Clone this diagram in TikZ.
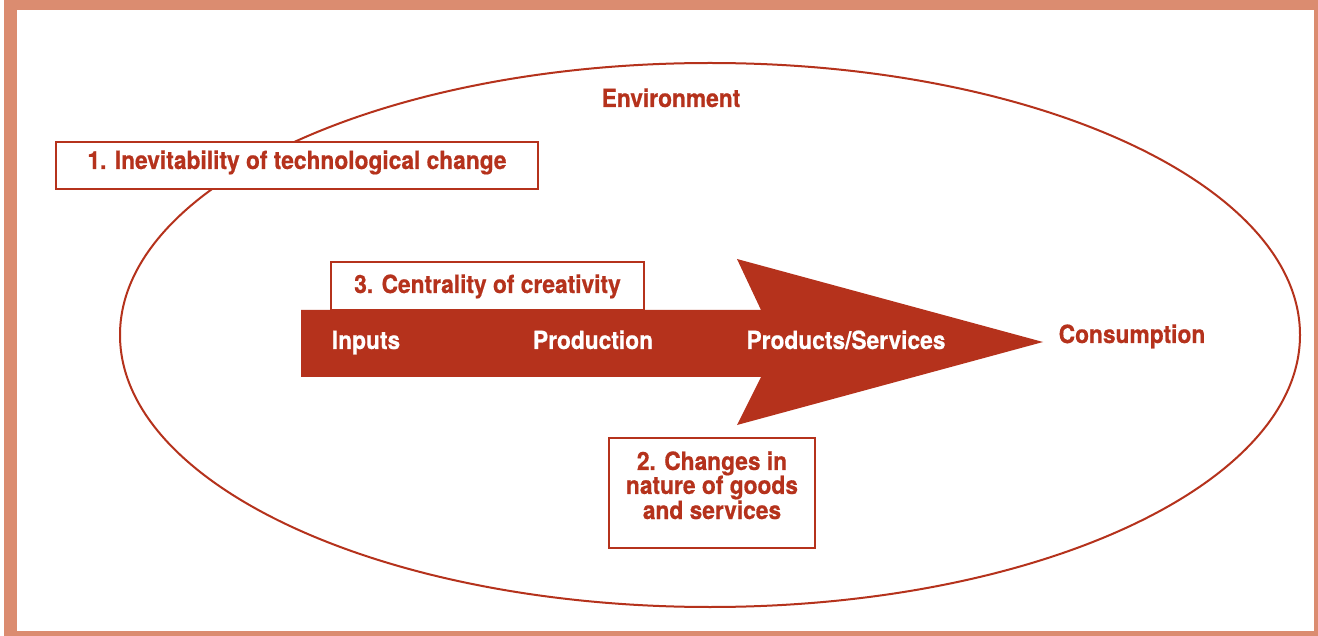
\documentclass[tikz,border=0pt]{standalone}
\usepackage{fontspec}
\setmainfont{TeX Gyre Heros}[FakeStretch=0.91, BoldFeatures={FakeBold=0.6}]
\definecolor{myred}{HTML}{B5321C}
\definecolor{framecol}{HTML}{DB8C70}
\tikzset{
  lbl/.style={text=myred, font=\fontsize{25}{24}\selectfont\bfseries, inner sep=0pt},
  inarrow/.style={lbl, text=white},
  box/.style={lbl, draw=myred, line width=2pt, fill=white, text height=18pt}
}

\begin{document}
\begin{tikzpicture}[x=1pt,y=-1pt]
    \useasboundingbox (0,0) rectangle (1318,636);
    \fill[framecol] (4,0) rectangle (1318,636);
    \fill[white] (17,10) rectangle (1314,631);
    \draw[myred, line width=2pt] (710,335) ellipse [x radius=590, y radius=272];
    \fill[myred] (301,310) -- (761,310) -- (737,259) -- (1043,342) -- (737,425)
      -- (761,377) -- (301,377) -- cycle;
    \node[lbl, anchor=base] (env) at (671,107) {Environment};
    \node[lbl, anchor=base] (con) at (1132,343) {Consumption};
    \node[inarrow, anchor=base] (inp) at (366,349) {Inputs};
    \node[inarrow, anchor=base] (pro) at (593,349) {Production};
    \node[inarrow, anchor=base] (ps) at (846,349) {Products/Services};
    \node[box, minimum width=482pt, minimum height=47pt, text depth=11pt] (b1) at (297,165.5)
      {1. Inevitability of technological change};
    \node[box, minimum width=313pt, minimum height=48pt, text depth=4pt] (b3) at (487.5,286)
      {3. Centrality of creativity};
    \node[box, minimum width=206pt, minimum height=110pt, align=center, text height=66pt, text depth=14pt] (b2) at (712,493)
      {2. Changes in\\nature of goods\\and services};
\end{tikzpicture}
\end{document}
